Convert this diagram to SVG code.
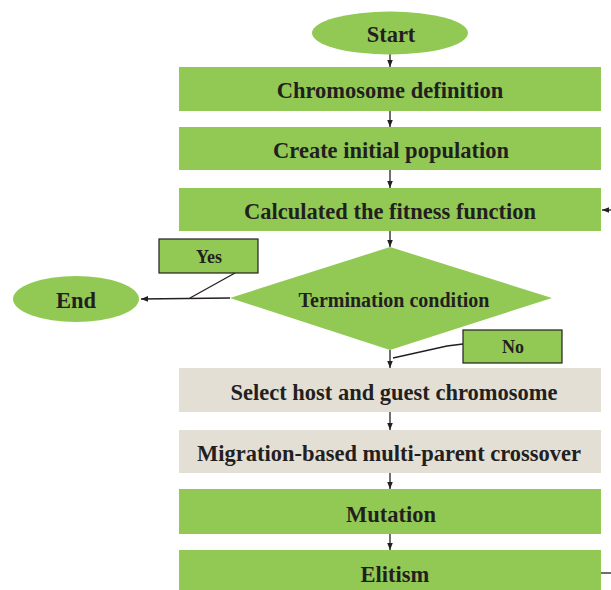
<svg xmlns="http://www.w3.org/2000/svg" width="611" height="590" viewBox="0 0 611 590">
<defs>
<style>
.g{fill:#92C954;}
.b{fill:#E4DFD5;}
.t{font-family:"Liberation Serif","Times New Roman",serif;font-weight:bold;font-size:22.5px;fill:#231F20;text-anchor:middle;dominant-baseline:central;}
.s{font-size:18px;}
.c{stroke:#231F20;stroke-width:1.3;fill:none;}
.lb{fill:#92C954;stroke:#231F20;stroke-width:1.2;}
</style>
<marker id="ar" viewBox="0 0 10 10" refX="10" refY="5" markerWidth="7" markerHeight="7" orient="auto" markerUnits="userSpaceOnUse">
<path d="M0,1 L10,5 L0,9 Z" fill="#231F20"/>
</marker>
</defs>
<rect width="611" height="590" fill="#ffffff"/>
<g id="connectors">
<line class="c" x1="390" y1="54" x2="390" y2="67" marker-end="url(#ar)"/>
<line class="c" x1="390" y1="111" x2="390" y2="127" marker-end="url(#ar)"/>
<line class="c" x1="390" y1="170" x2="390" y2="188" marker-end="url(#ar)"/>
<line class="c" x1="390" y1="231" x2="390" y2="247" marker-end="url(#ar)"/>
<line class="c" x1="230" y1="298" x2="141" y2="299" marker-end="url(#ar)"/>
<line class="c" x1="390" y1="350" x2="390" y2="368" marker-end="url(#ar)"/>
<line class="c" x1="390" y1="412" x2="390" y2="430" marker-end="url(#ar)"/>
<line class="c" x1="390" y1="473" x2="390" y2="489" marker-end="url(#ar)"/>
<line class="c" x1="390" y1="534" x2="390" y2="550" marker-end="url(#ar)"/>
<line class="c" x1="601" y1="573" x2="611" y2="573"/>
<line class="c" x1="611" y1="210" x2="602" y2="210" marker-end="url(#ar)"/>
<line class="c" x1="235" y1="273" x2="190" y2="298"/>
<polyline class="c" points="463,344 447,346 393,358"/>
</g>
<g id="start">
<ellipse class="g" cx="390" cy="33" rx="78" ry="21.5"/>
<text class="t" x="391" y="34">Start</text>
</g>
<g id="chromosome-definition">
<rect class="g" x="179" y="67" width="422" height="44"/>
<text class="t" x="390" y="90">Chromosome definition</text>
</g>
<g id="initial-population">
<rect class="g" x="179" y="127" width="422" height="43"/>
<text class="t" x="391" y="150">Create initial population</text>
</g>
<g id="fitness">
<rect class="g" x="179" y="188" width="422" height="43"/>
<text class="t" x="390" y="211">Calculated the fitness function</text>
</g>
<g id="termination">
<polygon class="g" points="390,247 552,298 390,350 230,298"/>
<text class="t" x="394" y="300" style="font-size:20px">Termination condition</text>
</g>
<g id="end">
<ellipse class="g" cx="76" cy="299" rx="63" ry="23"/>
<text class="t" x="76" y="300">End</text>
</g>
<g id="yes">
<rect class="lb" x="159" y="239" width="99" height="34"/>
<text class="t s" x="209" y="257">Yes</text>
</g>
<g id="no">
<rect class="lb" x="463" y="330" width="99" height="33"/>
<text class="t s" x="513" y="347">No</text>
</g>
<g id="select-host">
<rect class="b" x="179" y="368" width="422" height="44"/>
<text class="t" x="394" y="392">Select host and guest chromosome</text>
</g>
<g id="migration">
<rect class="b" x="179" y="430" width="422" height="43"/>
<text class="t" x="389" y="453">Migration-based multi-parent crossover</text>
</g>
<g id="mutation">
<rect class="g" x="179" y="489" width="422" height="45"/>
<text class="t" x="391" y="514">Mutation</text>
</g>
<g id="elitism">
<rect class="g" x="179" y="550" width="422" height="45"/>
<text class="t" x="395" y="574">Elitism</text>
</g>
</svg>
